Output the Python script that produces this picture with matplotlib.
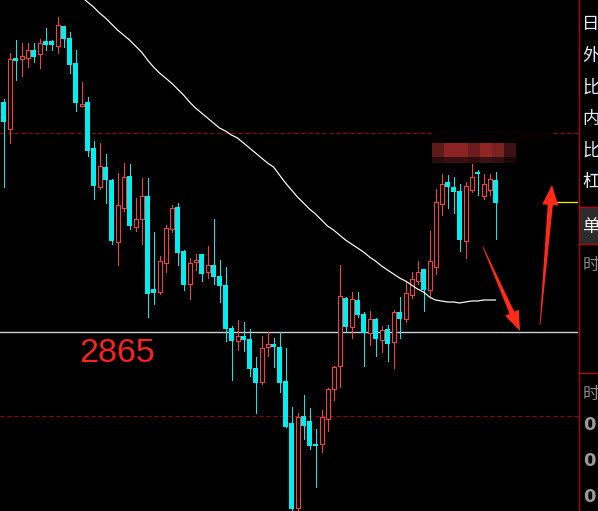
import matplotlib
matplotlib.use("Agg")
import matplotlib.pyplot as plt
from matplotlib.patches import Rectangle, Polygon
from matplotlib.lines import Line2D
import numpy as np

# ---- price data (one row per bar) ----
opens = [3095, 3068, 3139, 3138, 3139, 3147, 3143, 3156, 3156, 3151,
         3171, 3159, 3134, 3091, 3095, 3049, 3010, 3030, 3017, 2955,
         2989, 3021, 2970, 2978, 3001, 2908, 2905, 2934, 2968, 2990,
         2946, 2913, 2935, 2943, 2925, 2932, 2921, 2912, 2869, 2856,
         2861, 2858, 2829, 2815, 2850, 2853, 2850, 2816, 2774, 2689,
         2781, 2776, 2753, 2753, 2778, 2808, 2831, 2899, 2870, 2897,
         2883, 2864, 2878, 2857, 2868, 2855, 2885, 2878, 2902, 2916,
         2928, 2907, 2930, 2993, 3015, 3010, 3006, 2956, 3007, 3025,
         3001, 3007, 3017]
highs = [3098, 3144, 3157, 3154, 3154, 3154, 3158, 3169, 3157, 3180,
         3171, 3165, 3147, 3115, 3100, 3056, 3054, 3043, 3018, 3024,
         3034, 3033, 2999, 3019, 3019, 2965, 2941, 2972, 2992, 2994,
         2947, 2939, 2943, 2943, 2951, 2978, 2937, 2930, 2871, 2877,
         2875, 2868, 2840, 2861, 2865, 2859, 2865, 2849, 2790, 2784,
         2802, 2789, 2768, 2787, 2809, 2831, 2932, 2900, 2905, 2905,
         2885, 2886, 2879, 2871, 2872, 2887, 2900, 2915, 2925, 2936,
         2928, 2966, 3008, 3023, 3022, 3020, 3013, 3015, 3033, 3027,
         3023, 3023, 3025]
lows = [3010, 3054, 3117, 3121, 3130, 3135, 3129, 3147, 3147, 3144,
        3150, 3124, 3086, 3091, 3041, 2998, 3008, 2994, 2953, 2932,
        2986, 2968, 2966, 2953, 2880, 2893, 2903, 2925, 2965, 2932,
        2907, 2898, 2927, 2916, 2919, 2913, 2895, 2856, 2817, 2847,
        2846, 2821, 2784, 2813, 2841, 2830, 2805, 2770, 2687, 2687,
        2758, 2748, 2710, 2745, 2766, 2797, 2810, 2865, 2859, 2880,
        2831, 2852, 2841, 2845, 2836, 2829, 2859, 2875, 2899, 2913,
        2886, 2899, 2923, 2982, 2989, 2984, 2946, 2939, 3005, 3002,
        2998, 3002, 2958]
closes = [3075, 3138, 3136, 3141, 3147, 3140, 3154, 3152, 3152, 3172,
          3158, 3132, 3094, 3093, 3046, 3011, 3031, 3017, 2956, 2992,
          3020, 2971, 2978, 3001, 2903, 2904, 2936, 2969, 2989, 2944,
          2912, 2934, 2937, 2923, 2932, 2920, 2911, 2868, 2856, 2861,
          2857, 2828, 2814, 2849, 2853, 2850, 2814, 2770, 2688, 2780,
          2771, 2751, 2751, 2780, 2808, 2830, 2901, 2870, 2898, 2882,
          2864, 2878, 2858, 2867, 2853, 2885, 2878, 2904, 2918, 2925,
          2907, 2936, 2995, 3013, 3010, 3005, 2957, 3011, 3020, 3023,
          3013, 3018, 2994]

# moving average, available from bar 13 onward
ma_start = 13
ma_values = [3200, 3195, 3190, 3184, 3179, 3173, 3167, 3162, 3157, 3151,
             3145, 3137, 3130, 3124, 3119, 3114, 3108, 3102, 3095, 3089,
             3084, 3079, 3074, 3069, 3066, 3062, 3059, 3054, 3049, 3044,
             3039, 3034, 3030, 3022, 3014, 3007, 3000, 2994, 2988, 2983,
             2977, 2971, 2967, 2962, 2957, 2953, 2949, 2945, 2940, 2936,
             2931, 2927, 2923, 2919, 2916, 2912, 2908, 2905, 2900, 2897,
             2896, 2895, 2895, 2894, 2895, 2896, 2896, 2897, 2897, 2897]

support_level = 2865
support_label = "2865"
dash_levels = [3064, 2781]
yellow_level = 2995

info_labels = ["日", "外", "比", "内", "比", "杠"]
tab_label = "单"
time_labels = ["时", "时"]
digit_labels = ["0", "0", "0"]

# ---- colours ----
UP = "#ff3b3b"
DOWN = "#00eef0"
BG = "black"

W, H = 598, 511
PLOT_W = 578
BAR_STEP = 6.0       # pixels per bar
FIRST_X = 3.5        # pixel centre of first bar

fig = plt.figure(figsize=(W / 100, H / 100), dpi=100, facecolor=BG)
ax = fig.add_axes([0, 0, PLOT_W / W, 1])
ax.set_facecolor(BG)
ax.set_xlim(-FIRST_X / BAR_STEP, (PLOT_W - FIRST_X) / BAR_STEP)
ax.set_ylim(2686, 3197)
ax.axis("off")

px = 1.0 / BAR_STEP  # one pixel in bar units
lw1 = 0.72           # one pixel in points


def P(x, y):
    """pixel position (top-left origin) -> figure fraction"""
    return (x / W, 1 - y / H)


# reference levels
for lv in dash_levels:
    ax.axhline(lv, color="#a80000", lw=lw1, ls=(0, (4, 3)), zorder=1)
ax.axhline(support_level, color="#d0d0d0", lw=lw1 * 1.4, zorder=1)
ax.axhline(yellow_level, xmin=555 / PLOT_W, xmax=1, color="#f0f000",
           lw=lw1 * 1.3, zorder=1)

# candles
for i, (o, h, l, c) in enumerate(zip(opens, highs, lows, closes)):
    up = c >= o
    col = UP if up else DOWN
    ax.vlines(i, l, h, color=col, lw=lw1, zorder=2, antialiased=False)
    lo, hi = min(o, c), max(o, c)
    if up:
        rect = Rectangle((i - 2 * px, lo), 4 * px, max(hi - lo, 1),
                         facecolor=BG, edgecolor=col, lw=lw1, zorder=3,
                         antialiased=False)
    else:
        rect = Rectangle((i - 2.5 * px, lo), 5 * px, max(hi - lo, 1),
                         facecolor=col, edgecolor="none", zorder=3,
                         antialiased=False)
    ax.add_patch(rect)

# moving average
ma_x = np.arange(ma_start, ma_start + len(ma_values))
ax.plot(ma_x, ma_values, color="white", lw=lw1 * 1.2, zorder=4)

# support label
fig.text(*P(79, 362), support_label, color="#ff2020", fontsize=24.5,
         family="Liberation Sans", va="baseline", ha="left")

# pixelated patch near the top right of the price area
mosaic_rows = [
    (131, 143, ["#060101"] * 10),
    (143, 157, ["#5c1a1a", "#8c2222", "#8c2222", "#6c1c1c", "#8e2626",
                "#7c2020", "#3e1212"]),
    (157, 163, ["#2a0c0c", "#3a1010", "#3a1010", "#2c0d0d", "#3c1111",
                "#301010", "#1a0808"]),
]
for y0, y1, cols in mosaic_rows:
    for k, c in enumerate(cols):
        x0 = 432 + 12 * k
        fig.add_artist(Rectangle(P(x0, y1), 12 / W, (y1 - y0) / H,
                                 transform=fig.transFigure, facecolor=c,
                                 edgecolor="none", zorder=5))


def tapered_arrow(tail, tip, head_len, head_half, shaft_half, color):
    t = np.array(tail, float)
    p = np.array(tip, float)
    d = p - t
    u = d / np.hypot(*d)
    n = np.array([-u[1], u[0]])
    base = p - head_len * u
    pts = [t + 0.4 * n, base + shaft_half * n, base + head_half * n, p,
           base - head_half * n, base - shaft_half * n, t - 0.4 * n]
    pts = [P(*q) for q in pts]
    fig.add_artist(Polygon(pts, closed=True, transform=fig.transFigure,
                           facecolor=color, edgecolor="none", zorder=6))


tapered_arrow((483, 247), (520, 331), 20, 7.5, 2.6, "#ff2a1a")
tapered_arrow((540, 325), (552, 185), 20, 8, 2.6, "#ff2a1a")

# ---- side panel ----
panel_red = "#c00000"
fig.add_artist(Line2D([P(578.5, 0)[0]] * 2, [0, 1],
                      transform=fig.transFigure, color=panel_red, lw=lw1 * 1.3))
fig.add_artist(Rectangle(P(579, 244), (W - 579) / W, 36 / H,
                         transform=fig.transFigure, facecolor="#2c2c2c",
                         edgecolor="none", zorder=1))
for yy in (207, 244, 373):
    fig.add_artist(Line2D([P(579, yy)[0], 1], [P(0, yy)[1]] * 2,
                          transform=fig.transFigure, color=panel_red,
                          lw=lw1 * 1.3))

cjk = ["Noto Sans CJK SC", "DejaVu Sans"]
for k, s in enumerate(info_labels):
    fig.text(*P(582, 24 + 31.6 * k), s, color="#e8eef8", fontsize=12.5,
             family=cjk, va="center", ha="left")
fig.text(*P(582, 227), tab_label, color="#f4f4f4", fontsize=12.5,
         family=cjk, va="center", ha="left")
for yy, s in zip((265, 394), time_labels):
    fig.text(*P(583, yy), s, color="#8a8a8a", fontsize=12,
             family=cjk, va="center", ha="left")
for k, s in enumerate(digit_labels):
    fig.text(*P(583, 425 + 36 * k), s, color="#9a9a9a", fontsize=13,
             family="DejaVu Sans", weight="bold", va="center", ha="left")

fig.savefig("out.png", dpi=100, facecolor=BG)
